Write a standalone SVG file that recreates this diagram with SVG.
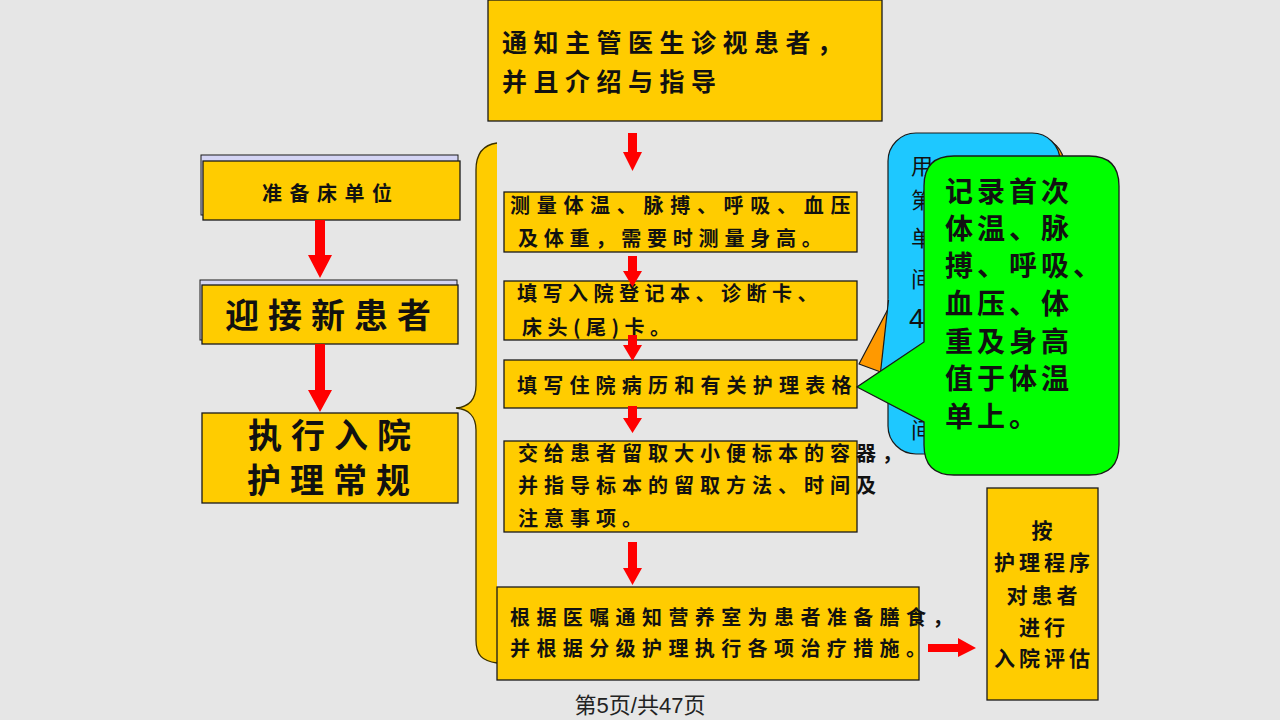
<svg xmlns="http://www.w3.org/2000/svg" width="1280" height="720" viewBox="0 0 1280 720">
<style>
.bg{fill:#e6e6e6}
.box{fill:#ffcc00;stroke:#1a1a1a;stroke-width:1.3}
.back{fill:#d4d4f4;stroke:#1a1a1a;stroke-width:1}
.t{font-family:"Noto Sans CJK SC","Noto Sans CJK TC",sans-serif;font-weight:700;fill:#111}
.arr{fill:#ff0000}
.ft{font-family:"Liberation Sans","Noto Sans CJK SC",sans-serif;font-size:22px;fill:#222}
</style>
<rect class="bg" x="0" y="0" width="1280" height="720"/>

<g id="brace">
<path d="M497,143 C482,145 476,155 476,170 L476,385 C476,400 468,407 456,408 C468,409 476,416 476,430 L476,640 C476,655 482,661 497,663 Z" fill="#ffcc00"/>
<path d="M497,143 C482,145 476,155 476,170 L476,385 C476,400 468,407 456,408 C468,409 476,416 476,430 L476,640 C476,655 482,661 497,663" fill="none" stroke="#3a3000" stroke-width="1.3"/>
</g>

<g id="n-prepare">
<rect class="back" x="201" y="155" width="257" height="60"/>
<rect class="box" x="203" y="161" width="257" height="59"/>
<text class="t" x="262" y="201" font-size="20" letter-spacing="7.5">准备床单位</text>
</g>

<g id="n-welcome">
<rect class="back" x="200" y="280" width="257" height="60"/>
<rect class="box" x="202" y="285" width="256" height="59"/>
<text class="t" x="225" y="328" font-size="34" letter-spacing="9">迎接新患者</text>
</g>

<g id="n-routine">
<rect class="box" x="202" y="413" width="256" height="90"/>
<text class="t" x="248" y="448" font-size="34" letter-spacing="9">执行入院</text>
<text class="t" x="247" y="493" font-size="34" letter-spacing="9">护理常规</text>
</g>

<g id="n-notify">
<rect class="box" x="488" y="0" width="394" height="121"/>
<text class="t" x="502" y="52" font-size="25" letter-spacing="6.5">通知主管医生诊视患者，</text>
<text class="t" x="502" y="91" font-size="25" letter-spacing="6.5">并且介绍与指导</text>
</g>

<g id="n-measure">
<rect class="box" x="504" y="192" width="353" height="60"/>
<text class="t" x="510" y="213" font-size="20" letter-spacing="6.7">测量体温、脉搏、呼吸、血压</text>
<text class="t" x="518" y="246" font-size="20" letter-spacing="5.8">及体重，需要时测量身高。</text>
</g>

<g id="n-register">
<rect class="box" x="504" y="281" width="353" height="59"/>
<text class="t" x="517" y="301" font-size="20" letter-spacing="5.5">填写入院登记本、诊断卡、</text>
<text class="t" x="522" y="335" font-size="20" letter-spacing="5.5">床头(尾)卡。</text>
</g>

<g id="n-records">
<rect class="box" x="504" y="360" width="353" height="48"/>
<text class="t" x="517" y="393" font-size="20" letter-spacing="6.2">填写住院病历和有关护理表格</text>
</g>

<g id="n-specimen">
<rect class="box" x="504" y="441" width="353" height="91"/>
<text class="t" x="518" y="461" font-size="20" letter-spacing="6">交给患者留取大小便标本的容器，</text>
<text class="t" x="518" y="493" font-size="20" letter-spacing="6">并指导标本的留取方法、时间及</text>
<text class="t" x="518" y="526" font-size="20" letter-spacing="6">注意事项。</text>
</g>

<g id="n-diet">
<rect class="box" x="497" y="587" width="422" height="93"/>
<text class="t" x="510" y="625" font-size="20" letter-spacing="6.4">根据医嘱通知营养室为患者准备膳食，</text>
<text class="t" x="510" y="656" font-size="20" letter-spacing="6.4">并根据分级护理执行各项治疗措施。</text>
</g>

<g id="n-assess">
<rect class="box" x="987" y="488" width="111" height="212"/>
<g text-anchor="middle">
<text class="t" x="1044" y="538" font-size="21" letter-spacing="4">按</text>
<text class="t" x="1044" y="570" font-size="21" letter-spacing="4">护理程序</text>
<text class="t" x="1044" y="603" font-size="21" letter-spacing="4">对患者</text>
<text class="t" x="1044" y="635" font-size="21" letter-spacing="4">进行</text>
<text class="t" x="1044" y="666" font-size="21" letter-spacing="4">入院评估</text>
</g>
</g>

<g id="callout-orange">
<rect x="893" y="138" width="171" height="312" rx="26" fill="#ff9900" stroke="#1a1a1a" stroke-width="1.2"/>
<polygon points="897,292 859,364 897,378" fill="#ff9900" stroke="#1a1a1a" stroke-width="1.2" stroke-linejoin="round"/>
</g>

<g id="callout-blue">
<rect x="888" y="133" width="172" height="321" rx="28" fill="#1ec8ff" stroke="#1a1a1a" stroke-width="1.2"/>
<polygon points="889,298 879,386 889,386" fill="#1ec8ff"/>
<path d="M888.5,300 L879,386" fill="none" stroke="#1a1a1a" stroke-width="1.2"/>
<g font-family="Noto Sans CJK SC, sans-serif" font-size="22" fill="#111">
<text x="911" y="174">用</text>
<text x="911" y="208">第</text>
<text x="911" y="246">单</text>
<text x="911" y="287">间</text>
<text x="909" y="328" font-family="Liberation Sans, sans-serif" font-size="28">4</text>
<text x="911" y="438">间</text>
</g>
</g>

<g id="callout-green">
<path d="M954,156 L1089,156 Q1119,156 1119,186 L1119,445 Q1119,475 1089,475 L954,475 Q924,475 924,445 L924,422 L857,387 L924,342 L924,186 Q924,156 954,156 Z" fill="#00ff00" stroke="#1a1a1a" stroke-width="1.3" stroke-linejoin="miter"/>
<g class="t" font-size="28" letter-spacing="4">
<text x="945" y="202">记录首次</text>
<text x="945" y="239">体温、脉</text>
<text x="945" y="276">搏、呼吸、</text>
<text x="945" y="314">血压、体</text>
<text x="945" y="352">重及身高</text>
<text x="945" y="389">值于体温</text>
<text x="945" y="427">单上。</text>
</g>
</g>

<g id="connectors">
<polygon class="arr" points="315,220 325,220 325,255 332,255 320,278 308,255 315,255"/>
<polygon class="arr" points="315,344 325,344 325,390 332,390 320,412 308,390 315,390"/>
<polygon class="arr" points="628,133 637,133 637,152 642,152 632.5,171 623,152 628,152"/>
<polygon class="arr" points="628,256 637,256 637,271 642,271 632.5,287 623,271 628,271"/>
<polygon class="arr" points="628,335 637,335 637,345 642,345 632.5,361 623,345 628,345"/>
<polygon class="arr" points="628,406 637,406 637,418 642,418 632.5,433 623,418 628,418"/>
<polygon class="arr" points="628,542 637,542 637,568 642,568 632.5,585 623,568 628,568"/>
<polygon class="arr" points="928,644 958,644 958,638 976,648 958,657 958,652 928,652"/>
</g>

<text class="ft" x="640" y="713" text-anchor="middle">第5页/共47页</text>
</svg>
